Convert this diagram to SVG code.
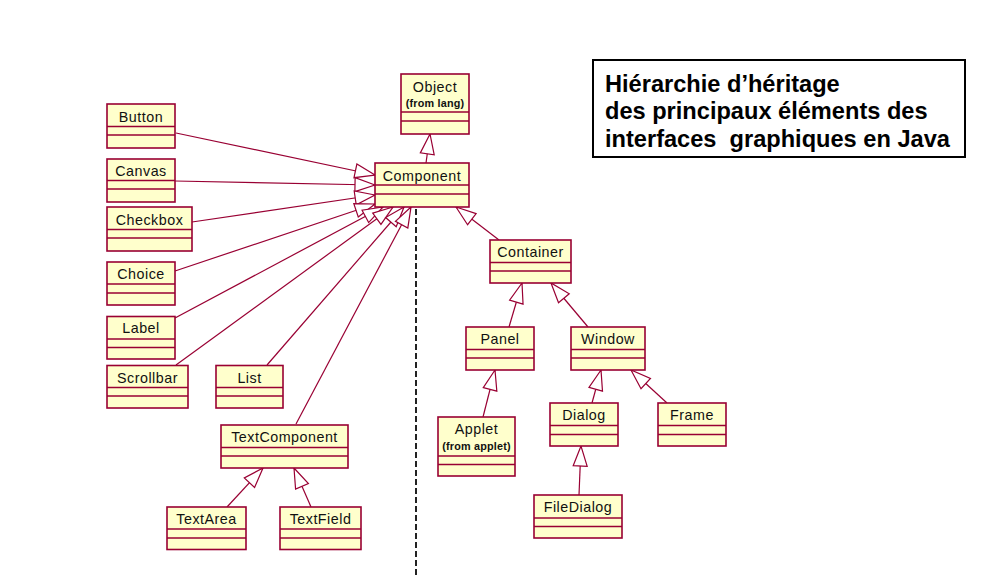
<svg xmlns="http://www.w3.org/2000/svg" width="989" height="578" viewBox="0 0 989 578">
<style>
.box rect{fill:#FFFFCC;stroke:#990033;stroke-width:1.6}
.box line{stroke:#990033;stroke-width:1.3}
.box text{font-family:"Liberation Sans",Arial,sans-serif;font-size:14.3px;letter-spacing:0.5px;fill:#111;text-anchor:middle}
.box text.sub{font-size:10.8px;font-weight:bold;letter-spacing:0.2px}
#connectors line{stroke:#990033;stroke-width:1.2;fill:none;marker-end:url(#gen)}
.title{font-family:"Liberation Sans",Arial,sans-serif;font-size:23.6px;font-weight:bold;fill:#000}
</style>
<defs>
<marker id="gen" markerUnits="userSpaceOnUse" markerWidth="24" markerHeight="18" viewBox="-22 -9 24 18" refX="0" refY="0" orient="auto">
<path d="M0,0 L-20,-7 L-20,7 Z" fill="#fff" stroke="#990033" stroke-width="1.2"/>
</marker>
</defs>
<rect width="989" height="578" fill="#fff"/>

<g id="connectors">
<line x1="426" y1="163" x2="430" y2="134"/>
<line x1="176" y1="133" x2="375" y2="175"/>
<line x1="175" y1="181" x2="375" y2="185"/>
<line x1="192" y1="222" x2="375" y2="195"/>
<line x1="175" y1="271" x2="375" y2="204"/>
<line x1="175" y1="318" x2="383" y2="207"/>
<line x1="176" y1="365" x2="393" y2="207"/>
<line x1="267" y1="365" x2="404" y2="207"/>
<line x1="296" y1="424" x2="411" y2="207"/>
<line x1="499" y1="240" x2="456" y2="207"/>
<line x1="509" y1="327" x2="522" y2="283"/>
<line x1="588" y1="327" x2="551" y2="283"/>
<line x1="483" y1="417" x2="495" y2="370"/>
<line x1="592" y1="403" x2="601" y2="370"/>
<line x1="667" y1="403" x2="631" y2="370"/>
<line x1="579" y1="495" x2="581" y2="446"/>
<line x1="227" y1="507" x2="263" y2="468"/>
<line x1="311" y1="507" x2="294" y2="468"/>
</g>

<line x1="416" y1="209" x2="416" y2="578" stroke="#222" stroke-width="2" stroke-dasharray="6,3"/>

<g id="Object" class="box"><rect x="401" y="74" width="68" height="60"/><line x1="401" y1="112" x2="469" y2="112"/><line x1="401" y1="121" x2="469" y2="121"/><text x="435" y="91.5">Object</text><text class="sub" x="435" y="106.5">(from lang)</text></g>
<g id="Component" class="box"><rect x="375" y="163" width="94" height="44"/><line x1="375" y1="185" x2="469" y2="185"/><line x1="375" y1="194" x2="469" y2="194"/><text x="422" y="180.5">Component</text></g>
<g id="Button" class="box"><rect x="107" y="104" width="68" height="44"/><line x1="107" y1="126.5" x2="175" y2="126.5"/><line x1="107" y1="135" x2="175" y2="135"/><text x="141" y="121.5">Button</text></g>
<g id="Canvas" class="box"><rect x="107" y="159" width="68" height="43"/><line x1="107" y1="180.5" x2="175" y2="180.5"/><line x1="107" y1="189" x2="175" y2="189"/><text x="141" y="176">Canvas</text></g>
<g id="Checkbox" class="box"><rect x="107" y="207" width="85" height="44"/><line x1="107" y1="229.5" x2="192" y2="229.5"/><line x1="107" y1="238" x2="192" y2="238"/><text x="149.5" y="224.5">Checkbox</text></g>
<g id="Choice" class="box"><rect x="107" y="262" width="68" height="43"/><line x1="107" y1="284" x2="175" y2="284"/><line x1="107" y1="293" x2="175" y2="293"/><text x="141" y="279">Choice</text></g>
<g id="Label" class="box"><rect x="107" y="316.5" width="68" height="42.5"/><line x1="107" y1="339" x2="175" y2="339"/><line x1="107" y1="347.5" x2="175" y2="347.5"/><text x="141" y="333">Label</text></g>
<g id="Scrollbar" class="box"><rect x="107" y="365.5" width="81" height="42.5"/><line x1="107" y1="387.5" x2="188" y2="387.5"/><line x1="107" y1="396" x2="188" y2="396"/><text x="147.5" y="382.5">Scrollbar</text></g>
<g id="List" class="box"><rect x="216" y="365.5" width="67" height="42.5"/><line x1="216" y1="387.5" x2="283" y2="387.5"/><line x1="216" y1="396" x2="283" y2="396"/><text x="249.5" y="382.5">List</text></g>
<g id="TextComponent" class="box"><rect x="221" y="425" width="127" height="43"/><line x1="221" y1="447.5" x2="348" y2="447.5"/><line x1="221" y1="456" x2="348" y2="456"/><text x="284.5" y="442">TextComponent</text></g>
<g id="TextArea" class="box"><rect x="167" y="507" width="79" height="42.5"/><line x1="167" y1="529" x2="246" y2="529"/><line x1="167" y1="538" x2="246" y2="538"/><text x="206.5" y="524">TextArea</text></g>
<g id="TextField" class="box"><rect x="280" y="507" width="81" height="42.5"/><line x1="280" y1="529" x2="361" y2="529"/><line x1="280" y1="538" x2="361" y2="538"/><text x="320.5" y="524">TextField</text></g>
<g id="Container" class="box"><rect x="490" y="240" width="81" height="43"/><line x1="490" y1="262.5" x2="571" y2="262.5"/><line x1="490" y1="271" x2="571" y2="271"/><text x="530.5" y="257">Container</text></g>
<g id="Panel" class="box"><rect x="466" y="327" width="68" height="43"/><line x1="466" y1="349.5" x2="534" y2="349.5"/><line x1="466" y1="358" x2="534" y2="358"/><text x="500" y="344">Panel</text></g>
<g id="Window" class="box"><rect x="571" y="327" width="74" height="43"/><line x1="571" y1="349.5" x2="645" y2="349.5"/><line x1="571" y1="358" x2="645" y2="358"/><text x="608" y="344">Window</text></g>
<g id="Applet" class="box"><rect x="438" y="417" width="77" height="59"/><line x1="438" y1="456" x2="515" y2="456"/><line x1="438" y1="464.5" x2="515" y2="464.5"/><text x="476.5" y="434">Applet</text><text class="sub" x="476.5" y="450">(from applet)</text></g>
<g id="Dialog" class="box"><rect x="550" y="403" width="68" height="43"/><line x1="550" y1="425.5" x2="618" y2="425.5"/><line x1="550" y1="434.5" x2="618" y2="434.5"/><text x="584" y="420">Dialog</text></g>
<g id="Frame" class="box"><rect x="658" y="403" width="68" height="43"/><line x1="658" y1="425.5" x2="726" y2="425.5"/><line x1="658" y1="434.5" x2="726" y2="434.5"/><text x="692" y="420">Frame</text></g>
<g id="FileDialog" class="box"><rect x="534" y="495" width="88" height="43"/><line x1="534" y1="518" x2="622" y2="518"/><line x1="534" y1="526.5" x2="622" y2="526.5"/><text x="578" y="512">FileDialog</text></g>

<g id="title">
<rect x="593" y="60" width="372" height="97" fill="#fff" stroke="#000" stroke-width="2"/>
<text class="title" x="605" y="91.5">Hiérarchie d’héritage</text>
<text class="title" x="605" y="119">des principaux éléments des</text>
<text class="title" x="605" y="146.5" xml:space="preserve">interfaces  graphiques en Java</text>
</g>
</svg>
